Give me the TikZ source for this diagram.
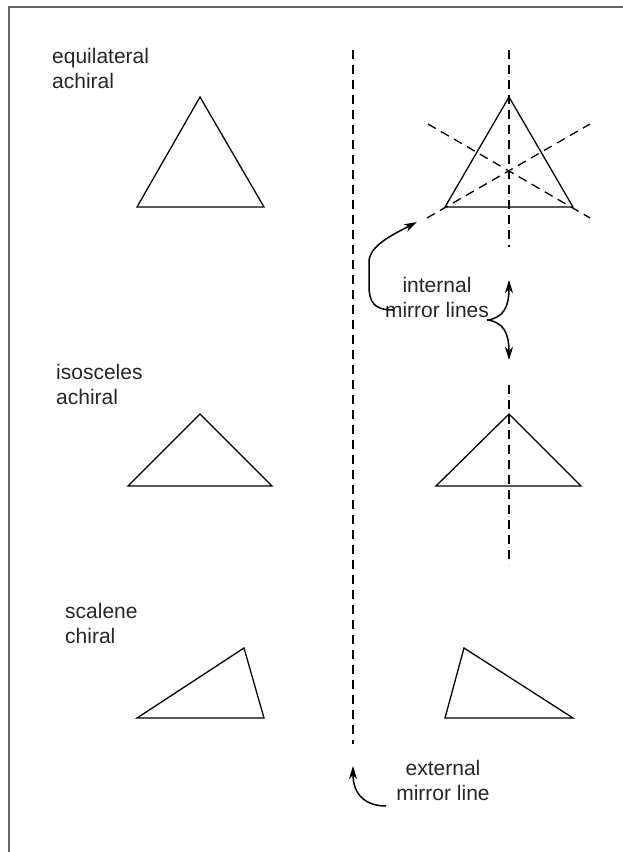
\documentclass[tikz,border=0pt]{standalone}
\usepackage{fontspec}
\setmainfont{Liberation Sans}
\usetikzlibrary{arrows.meta}
\begin{document}
\begin{tikzpicture}[x=1pt,y=-1pt,
  tri/.style={line width=1.3pt,line join=miter},
  mirror/.style={line width=1.3pt,dash pattern=on 9pt off 6pt},
  callout/.style={line width=1.5pt,-{Stealth[length=13pt,width=8pt,inset=4pt]}},
  lbl/.style={font=\fontsize{21}{25}\selectfont,text=black!85,inner sep=0pt}]
  \useasboundingbox (0,0) rectangle (623,852);
  \draw[black!60,line width=1.8pt] (9,852) -- (9,7) -- (623,7);
  \node[lbl,align=left,anchor=base west] (eqlbl) at (52,88) {equilateral\\achiral};
  \node[lbl,align=left,anchor=base west] (isolbl) at (56,404) {isosceles\\achiral};
  \node[lbl,align=left,anchor=base west] (scalbl) at (65,643) {scalene\\chiral};
  \draw[tri] (200,97) -- (264,207) -- (137,207) -- cycle;
  \draw[tri] (200,414) -- (272,486) -- (128,486) -- cycle;
  \draw[tri] (244,648) -- (264,718) -- (137,718) -- cycle;
  \draw[mirror] (353,50) -- (353,744);
  \draw[tri] (509,97) -- (573,207) -- (445,207) -- cycle;
  \draw[mirror] (509,50) -- (509,247);
  \draw[mirror] (427,218) -- (590,124);
  \draw[mirror] (428,124) -- (590,218);
  \draw[tri] (509,414) -- (581,486) -- (436,486) -- cycle;
  \draw[mirror] (509,385) -- (509,565);
  \draw[tri] (464,648) -- (573,718) -- (445,718) -- cycle;
  \node[lbl,align=center,anchor=base] (intlbl) at (437,317) {internal\\mirror lines};
  \node[lbl,align=center,anchor=base] (extlbl) at (443,800) {external\\mirror line};
  \coordinate (diagtip) at (417,222);
  \coordinate (uptip) at (509,280);
  \coordinate (downtip) at (509,360);
  \coordinate (exttip) at (353,766);
  \draw[callout] ([shift={(8,-7)}]intlbl.base west) .. controls (368,310) and (369,295) .. (369,280)
    -- (369,262) .. controls (369,246) and (392,235) .. (diagtip);
  \draw[callout] ([shift={(-2,3)}]intlbl.base east) .. controls (504,318) and (509,306) .. (uptip);
  \draw[callout] ([shift={(-2,3)}]intlbl.base east) .. controls (504,322) and (509,334) .. (downtip);
  \draw[callout] ([shift={(-10,6)}]extlbl.base west) .. controls (366,806) and (353,795) .. (exttip);
\end{tikzpicture}
\end{document}
